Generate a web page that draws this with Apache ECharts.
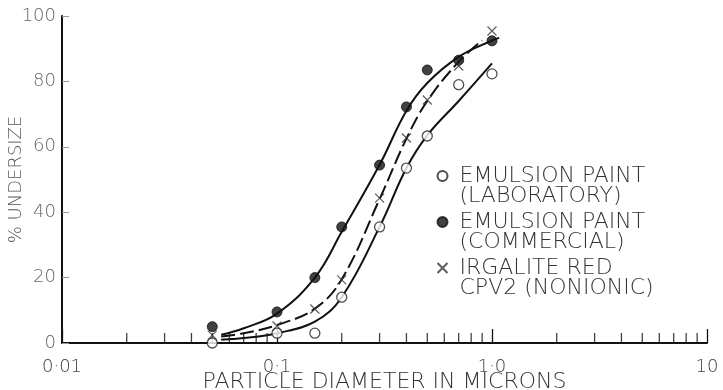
<!DOCTYPE html>
<html>
<head>
<meta charset="utf-8">
<script src="https://cdn.jsdelivr.net/npm/echarts@6/dist/echarts.min.js"></script>
<style>
html,body{margin:0;padding:0;background:#fff;}
#chart{width:723px;height:390px;}
</style>
</head>
<body>
<div id="chart"></div>
<script>
// Measured points
var labX = [0.05, 0.1, 0.15, 0.2, 0.3, 0.4, 0.5, 0.7, 1.0];
var labY = [0, 3, 3, 14, 35.5, 53.5, 63.3, 79, 82.3];
var comX = [0.05, 0.1, 0.15, 0.2, 0.3, 0.4, 0.5, 0.7, 1.0];
var comY = [5, 9.5, 20, 35.5, 54.4, 72.2, 83.5, 86.5, 92.4];
var irgX = [0.05, 0.1, 0.15, 0.2, 0.3, 0.4, 0.5, 0.7, 1.0];
var irgY = [2.4, 5.2, 10.4, 19.3, 44.3, 62.7, 74.3, 84.7, 95.4];

// Fitted curves
var labCurveX = [0.055, 0.07, 0.1, 0.15, 0.2, 0.3, 0.4, 0.5, 0.7, 1.0];
var labCurveY = [1, 1.5, 3, 6.5, 14, 35.5, 53.5, 63.5, 74, 85.5];
var comCurveX = [0.055, 0.07, 0.1, 0.15, 0.2, 0.3, 0.4, 0.5, 0.7, 1.0, 1.08];
var comCurveY = [2.5, 4.5, 9, 20, 34, 54.5, 71, 79.5, 87.5, 92.5, 93.3];
var irgCurveX = [0.055, 0.07, 0.1, 0.15, 0.2, 0.3, 0.4, 0.5, 0.7, 0.9];
var irgCurveY = [2, 3, 5.5, 10.5, 19.5, 44, 62.5, 74, 86, 92.5];

var xTickLabels = {0.01: '0·01', 0.1: '0·1', 1: '1·0', 10: '10'};
var minorTickValues = [0.02,0.03,0.04,0.05,0.06,0.07,0.08,0.09,
  0.2,0.3,0.4,0.5,0.6,0.7,0.8,0.9,
  2,3,4,5,6,7,8,9];

var names = ['EMULSION PAINT\n(LABORATORY)', 'EMULSION PAINT\n(COMMERCIAL)', 'IRGALITE RED\nCPV2 (NONIONIC)'];

function zip(xs, ys){ return xs.map(function(x,i){return [x, ys[i]];}); }

var FONT = '"DejaVu Sans", sans-serif';
var crossPath = 'path://M0,0L10,10M10,0L0,10';

var chart = echarts.init(document.getElementById('chart'));
chart.setOption({
  backgroundColor: '#fff',
  animation: false,
  grid: {left: 62, right: 16, top: 16, bottom: 47, containLabel: false, outerBoundsMode: 'none'},
  legend: {
    orient: 'vertical',
    left: 435,
    top: 145,
    padding: 0,
    itemGap: -16,
    itemWidth: 10,
    itemHeight: 10,
    data: names,
    formatter: function(n){ return ' \n' + n; },
    textStyle: {fontFamily: FONT, fontWeight: 200, fontSize: 22, color: '#333', lineHeight: 20, padding: [0, 0, 0, 7]}
  },
  xAxis: {
    type: 'log', logBase: 10, min: 0.01, max: 10,
    name: 'PARTICLE DIAMETER IN MICRONS', nameLocation: 'middle', nameGap: 28, nameMoveOverlap: false,
    nameTextStyle: {fontFamily: FONT, fontWeight: 200, fontSize: 22, color: '#333'},
    axisLine: {lineStyle: {color: '#111', width: 2}},
    axisTick: {inside: true, length: 14, lineStyle: {color: '#111', width: 1.3}},
    axisLabel: {fontFamily: FONT, fontWeight: 200, fontSize: 18, color: '#444', margin: 15,
      formatter: function(v){ var k = Math.round(Math.log10(v)*1000)/1000; return xTickLabels[Math.pow(10,k)] || xTickLabels[v] || String(v); }},
    splitLine: {show: false}
  },
  yAxis: {
    type: 'value', min: 0, max: 100, interval: 20,
    name: '% UNDERSIZE', nameLocation: 'middle', nameGap: 37, nameRotate: 90, nameMoveOverlap: false,
    nameTextStyle: {fontFamily: FONT, fontWeight: 200, fontSize: 18, color: '#555'},
    axisLine: {show: true, lineStyle: {color: '#111', width: 2}},
    axisTick: {show: true, inside: true, length: 7, lineStyle: {color: '#999', width: 1}},
    axisLabel: {fontFamily: FONT, fontWeight: 200, fontSize: 18, color: '#666', margin: 6},
    splitLine: {show: false}
  },
  series: [
    {name: 'minor ticks', type: 'scatter', silent: true, data: minorTickValues.map(function(v){return [v,0];}),
      symbol: 'rect', symbolSize: [1.3, 10], symbolOffset: [0, -5], itemStyle: {color: '#111'}, z: 1},
    {name: 'labCurve', type: 'line', smooth: 0.4, symbol: 'none', data: zip(labCurveX, labCurveY),
      lineStyle: {color: '#111', width: 2}, z: 2},
    {name: 'comCurve', type: 'line', smooth: 0.4, symbol: 'none', data: zip(comCurveX, comCurveY),
      lineStyle: {color: '#111', width: 2}, z: 2},
    {name: 'irgCurve', type: 'line', smooth: 0.4, symbol: 'none', data: zip(irgCurveX, irgCurveY),
      lineStyle: {color: '#111', width: 2, type: [14, 5]}, z: 2},
    {name: names[0], type: 'scatter', data: zip(labX, labY), symbol: 'circle', symbolSize: 10,
      itemStyle: {color: '#fff', borderColor: '#222', borderWidth: 1.3}, z: 3},
    {name: names[1], type: 'scatter', data: zip(comX, comY), symbol: 'circle', symbolSize: 10,
      itemStyle: {color: '#111', borderColor: '#111', borderWidth: 1}, z: 3},
    {name: names[2], type: 'scatter', data: zip(irgX, irgY), symbol: crossPath, symbolSize: 9,
      itemStyle: {color: 'none', borderColor: '#333', borderWidth: 1.2}, z: 4}
  ]
});
</script>
</body>
</html>
